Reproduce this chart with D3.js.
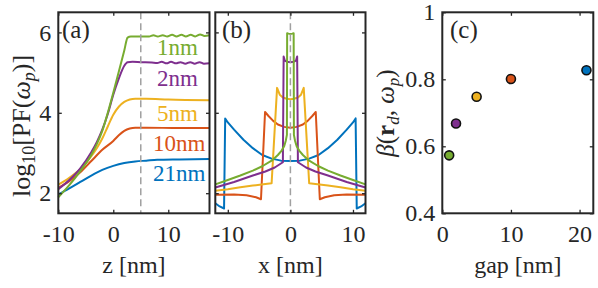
<!DOCTYPE html>
<html>
<head>
<meta charset="utf-8">
<script src="https://cdn.jsdelivr.net/npm/d3@7"></script>
<style>
body { margin: 0; background: #fff; }
svg text { font-family: "Liberation Serif", "DejaVu Serif", serif; fill: #262626; }
</style>
</head>
<body>
<svg width="598" height="288"></svg>
<script>
// gaps in nm and their colours (plot order 21 -> 1 so green ends on top)
const gaps = [21, 10, 5, 2, 1];
const gapLabels = ["21nm", "10nm", "5nm", "2nm", "1nm"];
const colors = ["#0072BD", "#D95319", "#EDB120", "#7E2F8E", "#77AC30"];

// panel (a): log10 PF along z
const pfZ21 = [[-10,1.97],[-8,2.12],[-6,2.28],[-4,2.44],[-2,2.58],[0,2.68],[2,2.75],[4,2.79],[6,2.81],[8,2.83],[12,2.84],[17.5,2.85]];
const pfZ10 = [[-10,2.13],[-8,2.3],[-6,2.52],[-4,2.8],[-2,3.08],[0,3.3],[1,3.44],[2,3.55],[3,3.61],[4,3.63],[6,3.63],[12,3.62],[17.5,3.62]];
const pfZ5 = [[-10,2.21],[-8,2.38],[-6,2.6],[-4,2.92],[-3,3.12],[-2,3.36],[-1,3.66],[0,3.95],[1,4.15],[2,4.27],[3,4.33],[4,4.35],[6,4.35],[10,4.33],[17.5,4.31]];
const pfZ2 = [[-10,2.1],[-8,2.33],[-6,2.62],[-4,3.02],[-3,3.27],[-2,3.58],[-1,3.97],[0,4.45],[1,4.85],[2,5.17],[2.6,5.26],[3.5,5.27],[5,5.26],[7,5.25],[8,5.24],[8.8,5.27],[9.7,5.23],[10.5,5.27],[11.4,5.23],[12.2,5.26],[13.1,5.22],[14,5.26],[14.8,5.22],[15.7,5.26],[16.5,5.22],[17.5,5.23]];
const pfZ1 = [[-10,1.9],[-8,2.2],[-6,2.55],[-4,2.95],[-3,3.22],[-2,3.55],[-1,4.0],[0,4.5],[1,5.02],[2,5.55],[2.6,5.87],[3.2,5.9],[5,5.9],[6.5,5.9],[7.3,5.93],[8.1,5.9],[9,5.93],[9.8,5.9],[10.7,5.94],[11.5,5.9],[12.4,5.94],[13.2,5.9],[14.1,5.94],[14.9,5.9],[15.8,5.95],[16.6,5.91],[17.5,5.93]];

// panel (b): log10 PF along x, half profile x >= 0 (curve is symmetric)
const pfX21 = [[0,2.8],[1.5,2.81],[3,2.86],[4.5,2.95],[6,3.12],[7.5,3.33],[9,3.58],[10,3.76],[10.42,3.86],[10.6,1.62],[11.3,1.67],[12,1.75]];
const pfX10 = [[0,3.63],[1,3.65],[2,3.71],[2.75,3.8],[3.5,3.92],[4.05,4.02],[4.7,1.85],[5.5,1.9],[7,1.95],[9,1.97],[12,1.96]];
const pfX5 = [[0,4.34],[0.6,4.35],[1.2,4.38],[1.7,4.45],[2.13,4.62],[3.0,2.25],[4,2.23],[6,2.19],[8,2.15],[10,2.1],[12,2.06]];
const pfX2 = [[0,5.26],[0.5,5.27],[0.9,5.3],[1.08,5.4],[1.2,2.77],[1.7,2.72],[2.5,2.64],[4,2.54],[6,2.44],[9,2.28],[12,2.14]];
const pfX1 = [[0,5.96],[0.3,5.97],[0.52,5.98],[0.56,3.45],[0.75,3.3],[1.0,3.17],[1.4,3.06],[2,2.95],[3,2.81],[4.5,2.67],[6,2.56],[8,2.44],[10,2.33],[12,2.22]];

// panel (c): beta vs gap
const betaGaps = [1, 2, 5, 10, 21];
const betaValues = [0.573, 0.668, 0.748, 0.801, 0.827];
const betaColors = ["#77AC30", "#7E2F8E", "#EDB120", "#D95319", "#0072BD"];

const pfTicks = [2, 4, 6];
const zTicks = [-10, 0, 10];
const xTicks = [-10, 0, 10];
const gapTicks = [0, 10, 20];
const betaTicks = [0.4, 0.6, 0.8, 1];

const svg = d3.select("svg");
const plotTop = 12.3, plotBottom = 213.3;
const tickLen = 3.5;

const y = d3.scaleLinear().domain([1.5, 6.5]).range([plotBottom, plotTop]);
const xa = d3.scaleLinear().domain([-10, 17.5]).range([58.3, 209.5]);
const xb = d3.scaleLinear().domain([-12, 12]).range([215.3, 365.5]);
const xc = d3.scaleLinear().domain([0, 22]).range([442.3, 593.3]);
const yc = d3.scaleLinear().domain([0.4, 1]).range([plotBottom, plotTop]);

function frame(xs, ys, xt, yt, xlab, ylab, yfmt) {
    const g = svg.append("g");
    g.append("g").attr("transform", `translate(0,${plotBottom})`)
        .call(d3.axisBottom(xs).tickValues(xt).tickSize(-tickLen).tickPadding(12).tickFormat(d => String(d)));
    g.append("g").attr("transform", `translate(0,${plotTop})`)
        .call(d3.axisTop(xs).tickValues(xt).tickSize(-tickLen).tickFormat(""));
    g.append("g").attr("transform", `translate(${xs.range()[0]},0)`)
        .call(d3.axisLeft(ys).tickValues(yt).tickSize(-tickLen).tickPadding(7).tickFormat(ylab ? yfmt : ""));
    g.append("g").attr("transform", `translate(${xs.range()[1]},0)`)
        .call(d3.axisRight(ys).tickValues(yt).tickSize(-tickLen).tickFormat(""));
    g.selectAll(".domain").remove();
    g.selectAll(".tick line").attr("stroke", "#262626").attr("stroke-width", 1.3);
    g.selectAll(".tick text").attr("font-size", 24).attr("fill", "#262626")
        .attr("font-family", "Liberation Serif");
    g.append("rect")
        .attr("x", xs.range()[0]).attr("y", plotTop)
        .attr("width", xs.range()[1] - xs.range()[0]).attr("height", plotBottom - plotTop)
        .attr("fill", "none").attr("stroke", "#262626").attr("stroke-width", 2);
    g.append("text")
        .attr("x", (xs.range()[0] + xs.range()[1]) / 2).attr("y", 273)
        .attr("text-anchor", "middle").attr("font-size", 24)
        .text(xlab);
    return g;
}

// ---- panel (a)
const lineA = d3.line().x(d => xa(d[0])).y(d => y(d[1])).curve(d3.curveMonotoneX);
const gA = svg.append("g");
[pfZ21, pfZ10, pfZ5, pfZ2, pfZ1].forEach((s, i) => {
    gA.append("path").attr("d", lineA(s)).attr("fill", "none")
        .attr("stroke", colors[i]).attr("stroke-width", 2).attr("stroke-linejoin", "round");
});
gA.append("line").attr("x1", xa(5)).attr("x2", xa(5)).attr("y1", plotTop).attr("y2", plotBottom)
    .attr("stroke", "#a0a0a0").attr("stroke-width", 1.5).attr("stroke-dasharray", "7,4");
frame(xa, y, zTicks, pfTicks, "z [nm]", true, d => String(d));

const labelX = [153, 153, 157, 157, 157];
const labelY = [181, 151, 121, 86, 55];
gapLabels.forEach((t, i) => {
    svg.append("text").attr("x", labelX[i]).attr("y", labelY[i])
        .attr("font-size", 23)
        .style("fill", colors[i]).text(t);
});
svg.append("text").attr("x", 62).attr("y", 38).attr("font-size", 25).text("(a)");

// y label (a)
const ya = svg.append("text").attr("transform", "translate(30,126) rotate(-90)")
    .attr("text-anchor", "middle").attr("font-size", 26);
ya.append("tspan").text("log");
ya.append("tspan").attr("dy", 5).attr("font-size", 18).text("10");
ya.append("tspan").attr("dy", -5).text("[PF(");
ya.append("tspan").attr("font-style", "italic").text("ω");
ya.append("tspan").attr("dy", 5).attr("font-size", 18).attr("font-style", "italic").text("p");
ya.append("tspan").attr("dy", -5).text(")]");

// ---- panel (b)
const lineB = d3.line().x(d => xb(d[0])).y(d => y(d[1]));
const gB = svg.append("g");
[pfX21, pfX10, pfX5, pfX2, pfX1].forEach((s, i) => {
    const full = s.slice(1).map(d => [-d[0], d[1]]).reverse().concat(s);
    gB.append("path").attr("d", lineB(full)).attr("fill", "none")
        .attr("stroke", colors[i]).attr("stroke-width", 2).attr("stroke-linejoin", "round");
});
gB.append("line").attr("x1", xb(0)).attr("x2", xb(0)).attr("y1", plotTop).attr("y2", plotBottom)
    .attr("stroke", "#a0a0a0").attr("stroke-width", 1.5).attr("stroke-dasharray", "7,4");
frame(xb, y, xTicks, pfTicks, "x [nm]", false);
svg.append("text").attr("x", 222).attr("y", 38).attr("font-size", 25).text("(b)");

// ---- panel (c)
frame(xc, yc, gapTicks, betaTicks, "gap [nm]", true, d => d === 1 ? "1" : d.toFixed(1));
svg.append("g").selectAll("circle")
    .data(betaGaps)
    .join("circle")
    .attr("cx", d => xc(d))
    .attr("cy", (d, i) => yc(betaValues[i]))
    .attr("r", 4.5)
    .attr("fill", (d, i) => betaColors[i])
    .attr("stroke", "#111").attr("stroke-width", 1.6);
svg.append("text").attr("x", 450).attr("y", 38).attr("font-size", 25).text("(c)");

const yb = svg.append("text").attr("transform", "translate(394,113) rotate(-90)")
    .attr("text-anchor", "middle").attr("font-size", 25);
yb.append("tspan").attr("font-style", "italic").text("β");
yb.append("tspan").text("(");
yb.append("tspan").attr("font-weight", "bold").text("r");
yb.append("tspan").attr("dy", 5).attr("font-size", 17).attr("font-style", "italic").text("d");
yb.append("tspan").attr("dy", -5).text(", ");
yb.append("tspan").attr("font-style", "italic").text("ω");
yb.append("tspan").attr("dy", 5).attr("font-size", 17).attr("font-style", "italic").text("p");
yb.append("tspan").attr("dy", -5).text(")");
</script>
</body>
</html>
